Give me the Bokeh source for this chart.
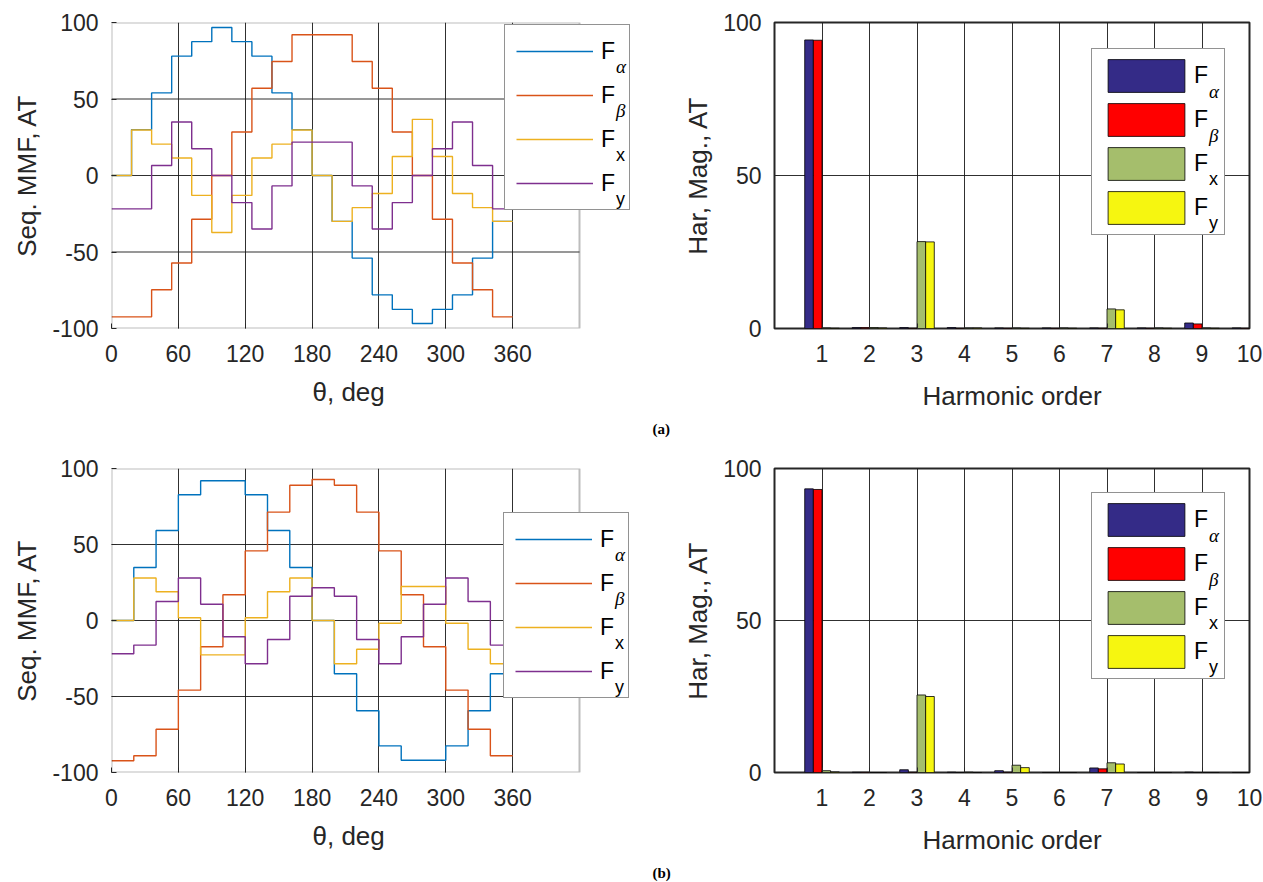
from bokeh.plotting import figure
from bokeh.models import (Range1d, FixedTicker, Legend, LegendItem, ColumnDataSource,
                          BoxAnnotation, Title)
from bokeh.layouts import row, column
from bokeh.embed import file_html
from bokeh.resources import INLINE
from bokeh.transform import dodge

# ---------------- data ----------------
# (a) sequence MMF, 18-degree steps
theta_a = [0, 18, 36, 54, 72, 90, 108, 126, 144, 162, 180, 198, 216, 234, 252, 270, 288, 306, 324, 342, 360]
F_alpha_a = [0, 30, 54, 78, 87.5, 96.7, 87.5, 78, 54, 30, 0, -30, -54, -78, -87.5, -96.7, -87.5, -78, -54, -30]
F_beta_a = [-92.4, -92.4, -74.7, -57.2, -28.6, 0, 28.4, 57, 74.5, 92, 92, 92, 74.5, 57, 28.4, 0, -28.6, -57.2, -74.7, -92.4]
F_x_a = [0, 29.7, 20.5, 11.4, -13, -37.3, -13, 11.4, 20.5, 29.7, 0, -30, -21, -11.8, 12.4, 36.7, 12.4, -11.8, -21, -30]
F_y_a = [-21.8, -21.8, 6.5, 35, 17.5, 0, -17.7, -35, -6.8, 21.8, 21.8, 21.8, -6.8, -35, -17.7, 0, 17.5, 35, 6.5, -21.8]

# (b) sequence MMF, 20-degree steps
theta_b = [0, 20, 40, 60, 80, 100, 120, 140, 160, 180, 200, 220, 240, 260, 280, 300, 320, 340, 360]
F_alpha_b = [0, 34.9, 59.2, 82.7, 91.9, 91.9, 82.7, 59.2, 34.9, 0, -35, -59.4, -82.5, -91.9, -91.9, -82.5, -59.4, -35]
F_beta_b = [-92.3, -89, -71.5, -45.8, -17.3, 16.9, 45.8, 71.3, 89, 92.8, 89, 71.3, 45.8, 16.9, -17.3, -45.8, -71.5, -89]
F_x_b = [0, 28, 18.9, 1.8, -22.6, -22.6, 1.8, 18.9, 28, 0, -28.5, -18.9, -1.8, 22.4, 22.4, -1.8, -18.9, -28.5]
F_y_b = [-21.9, -16.2, 12.5, 28, 10.7, -10.7, -28.5, -12.5, 16, 21.5, 16, -12.5, -28.5, -10.7, 10.7, 28, 12.5, -16.2]

# harmonic spectra
harmonics = [1, 2, 3, 4, 5, 6, 7, 8, 9, 10]
H_alpha_a = [94.3, 0.3, 0.3, 0.3, 0.2, 0.2, 0.2, 0.2, 1.8, 0.2]
H_beta_a = [94.2, 0.3, 0.1, 0.1, 0.1, 0.1, 0.1, 0.1, 1.5, 0.1]
H_x_a = [0.2, 0.3, 28.4, 0.2, 0.2, 0.2, 6.4, 0.2, 0.2, 0.1]
H_y_a = [0.1, 0.2, 28.3, 0.2, 0.1, 0.1, 6.1, 0.1, 0.1, 0.1]

H_alpha_b = [93.3, 0.1, 0.9, 0.1, 0.6, 0.0, 1.5, 0.0, 0.1, 0.0]
H_beta_b = [93.1, 0.1, 0.1, 0.0, 0.1, 0.0, 1.2, 0.0, 0.0, 0.0]
H_x_b = [0.6, 0.0, 25.5, 0.1, 2.4, 0.0, 3.2, 0.0, 0.0, 0.0]
H_y_b = [0.2, 0.0, 25.0, 0.0, 1.6, 0.0, 2.8, 0.0, 0.0, 0.0]

theta_ticks = [0, 60, 120, 180, 240, 300, 360]
theta_max = 420
mmf_ticks = [-100, -50, 0, 50, 100]
har_ticks = [0, 50, 100]

line_colors = ["#0072BD", "#D95319", "#EDB120", "#7E2F8E"]
bar_colors = ["#342B87", "#FF0000", "#A5BE6C", "#F6F610"]
greek_subs = ["α", "β"]
latin_subs = ["x", "y"]

TXT = "#262626"
FONT = "Liberation Sans"
TICK_PX = 23
LABEL_PX = 26
LEG_PX = 23
SUB_PX = 18


def style_axes(p):
    for ax in (p.xaxis[0], p.yaxis[0]):
        ax.axis_line_color = None
        ax.major_tick_in = 5
        ax.major_tick_out = 0
        ax.major_tick_line_color = TXT
        ax.minor_tick_line_color = None
        ax.major_label_text_font = FONT
        ax.major_label_text_font_size = f"{TICK_PX}px"
        ax.major_label_text_color = TXT
        ax.axis_label_text_font = FONT
        ax.axis_label_text_font_size = f"{LABEL_PX}px"
        ax.axis_label_text_font_style = "normal"
        ax.axis_label_text_color = TXT
    p.xaxis.major_label_standoff = 16
    p.xaxis.axis_label_standoff = 16
    p.yaxis.major_label_standoff = 13
    p.yaxis.axis_label_standoff = 7
    p.background_fill_color = "white"
    p.border_fill_color = "white"


def grid_style(g):
    g.grid_line_color = "#1a1a1a"
    g.grid_line_width = 1
    g.grid_line_alpha = 0.9


def add_legend(p, renderers, loc, pad, gw, gh, spacing, standoff, lw):
    items = [LegendItem(label="F", renderers=[r]) for r in renderers]
    p.add_layout(Legend(items=items, location=loc, glyph_width=gw, padding=pad,
                        spacing=spacing, glyph_height=gh, label_height=gh, margin=0,
                        label_standoff=standoff, label_width=lw,
                        label_text_font=FONT, label_text_font_size=f"{LEG_PX}px",
                        label_text_color="black",
                        border_line_color=TXT, border_line_width=1.5,
                        background_fill_color="white", background_fill_alpha=1))
    # subscripts: transparent, padding-free legends on the same rows, offset right/down
    n = len(renderers)
    row_h = gh + spacing
    label_x = loc[0] + pad + gw + standoff
    sub_x = label_x + 0.611 * LEG_PX + 2
    dy = 15
    top_shift = n * gh + (n - 1) * spacing
    dummy = p.line([], [], line_alpha=0)
    for k, (labels, font, style, size) in enumerate([
            (greek_subs, "Liberation Serif", "italic", SUB_PX + 1),
            (latin_subs, FONT, "normal", SUB_PX)]):
        m = len(labels)
        body = m * gh + (m - 1) * spacing
        vy = loc[1] + pad + top_shift - body - k * m * row_h - dy
        p.add_layout(Legend(items=[LegendItem(label=s, renderers=[dummy]) for s in labels],
                            location=(sub_x - 1, vy), glyph_width=1, label_standoff=0,
                            label_width=10, padding=0, spacing=spacing,
                            glyph_height=gh, label_height=gh, margin=0,
                            label_text_font=font, label_text_font_style=style,
                            label_text_font_size=f"{size}px", label_text_color="black",
                            border_line_color=None, background_fill_alpha=0))


def step_panel(theta, series, height, top, bottom, leg_loc, tag, tag_standoff):
    W, BL, BR = 680, 111, 40
    fw = W - BL - BR
    # frame extends past the axes box so that the legend can overhang it
    x_end = theta_max * fw / 468.0
    p = figure(width=W, height=height, x_range=Range1d(0, x_end), y_range=Range1d(-100, 100),
               output_backend="svg", toolbar_location=None,
               min_border_left=BL, min_border_right=BR,
               min_border_top=top, min_border_bottom=bottom)
    p.outline_line_color = None
    inner = [t for t in mmf_ticks if -100 < t < 100]
    p.segment(x0=[0] * len(inner), x1=[theta_max] * len(inner), y0=inner, y1=inner,
              line_color="#1a1a1a", line_width=1, line_alpha=0.9, level="underlay")
    p.ygrid.visible = False
    rs = []
    for vals, c in zip(series, line_colors):
        rs.append(p.step(theta, vals + [vals[-1]], mode="after", line_color=c, line_width=1.4))
    p.xaxis.ticker = FixedTicker(ticks=theta_ticks)
    p.xaxis.bounds = (0, theta_max)
    p.yaxis.ticker = FixedTicker(ticks=mmf_ticks)
    p.yaxis.major_label_overrides = {-100: "-100", -50: "-50"}
    p.yaxis.axis_label = "Seq. MMF, AT"
    style_axes(p)
    grid_style(p.xgrid[0])
    p.add_layout(BoxAnnotation(left=0, right=theta_max, bottom=-100, top=100,
                               fill_alpha=0, line_color=TXT, line_width=2))
    add_legend(p, rs, leg_loc, pad=11, gw=77, gh=30, spacing=14, standoff=8, lw=17)
    # x label centred under the 0..420 axes box
    p.add_layout(Title(text="θ, deg", align="left", offset=201, standoff=20,
                       text_font=FONT, text_font_style="normal",
                       text_font_size=f"{LABEL_PX}px", text_color=TXT), "below")
    p.add_layout(Title(text=tag, align="left", offset=541, standoff=tag_standoff,
                       text_font="Liberation Serif", text_font_style="bold",
                       text_font_size="15px", text_color="black"), "below")
    return p


def bar_panel(series, height, top, bottom, leg_loc):
    W, BL, BR = 583, 91, 14
    p = figure(width=W, height=height, x_range=Range1d(0, 10), y_range=Range1d(0, 100),
               output_backend="svg", toolbar_location=None,
               min_border_left=BL, min_border_right=BR,
               min_border_top=top, min_border_bottom=bottom)
    p.outline_line_color = TXT
    p.outline_line_width = 2
    src = ColumnDataSource(dict(h=harmonics, a=series[0], b=series[1], x=series[2], y=series[3]))
    offsets = [-0.273, -0.091, 0.091, 0.273]
    rs = []
    for key, off, c in zip(["a", "b", "x", "y"], offsets, bar_colors):
        rs.append(p.vbar(x=dodge("h", off, range=p.x_range), top=key, width=0.182, source=src,
                         fill_color=c, line_color="black", line_width=0.8))
    p.xaxis.ticker = FixedTicker(ticks=harmonics)
    p.yaxis.ticker = FixedTicker(ticks=har_ticks)
    p.xaxis.axis_label = "Harmonic order"
    p.yaxis.axis_label = "Har, Mag., AT"
    style_axes(p)
    grid_style(p.xgrid[0])
    grid_style(p.ygrid[0])
    add_legend(p, rs, leg_loc, pad=6, gw=96, gh=41, spacing=3, standoff=0, lw=24)
    return p


p1 = step_panel(theta_a, [F_alpha_a, F_beta_a, F_x_a, F_y_a], 445, 22, 117, (393, 118), "(a)", 4)
p2 = bar_panel([H_alpha_a, H_beta_a, H_x_a, H_y_a], 445, 22, 117, (317, 93))
p3 = step_panel(theta_b, [F_alpha_b, F_beta_b, F_x_b, F_y_b], 437, 23, 109, (392, 74), "(b)", 4)
p4 = bar_panel([H_alpha_b, H_beta_b, H_x_b, H_y_b], 437, 23, 109, (317, 93))

layout = column(row(p1, p2), row(p3, p4))
open("out.html", "w").write(file_html(layout, INLINE))
